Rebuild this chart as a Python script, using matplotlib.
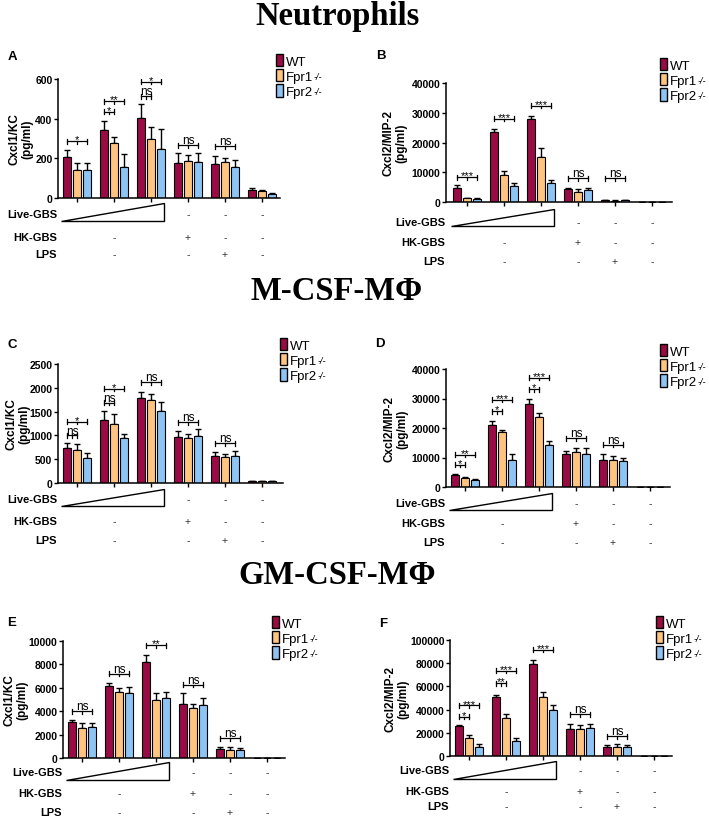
import matplotlib
matplotlib.use('Agg')
import matplotlib.pyplot as plt
import matplotlib.transforms as mtransforms
from matplotlib.patches import Polygon, Patch

plt.rcParams['font.family'] = ['Liberation Sans', 'DejaVu Sans']

W, H = 709, 820

GENOTYPES = ['WT', 'Fpr1', 'Fpr2']
KNOCKOUT_SUP = ['', '-/-', '-/-']
COLORS = ['#990B44', '#FFC47F', '#8DC4F4']

# Treatment table under each panel (groups 0-2: increasing Live-GBS)
HK_ROW = {1: '-', 3: '+', 4: '-', 5: '-'}
LPS_ROW = {1: '-', 3: '-', 4: '+', 5: '-'}
LIVE_ROW = {3: '-', 4: '-', 5: '-'}

# ---- Panel A: Neutrophils, Cxcl1/KC
A_WT = [205, 345, 405, 178, 170, 42]
A_WT_SD = [35, 45, 70, 50, 40, 8]
A_FPR1 = [140, 275, 295, 188, 180, 33]
A_FPR1_SD = [35, 35, 65, 30, 22, 5]
A_FPR2 = [140, 155, 245, 180, 155, 22]
A_FPR2_SD = [35, 65, 105, 45, 37, 4]
A_SIG = [(0, 2, 287, '*'), (1, 1, 434, '*'), (1, 2, 489, '**'),
         (2, 1, 514, 'ns'), (2, 2, 585, '*'), (3, 2, 267, 'ns'), (4, 2, 262, 'ns')]

# ---- Panel B: Neutrophils, Cxcl2/MIP-2
B_WT = [4700, 23500, 28000, 4300, 700, 0]
B_WT_SD = [900, 1200, 800, 400, 100, 0]
B_FPR1 = [1200, 9200, 15000, 3500, 500, 0]
B_FPR1_SD = [300, 1200, 3000, 900, 100, 0]
B_FPR2 = [1000, 5300, 6500, 4000, 600, 0]
B_FPR2_SD = [200, 1000, 1000, 700, 100, 0]
B_SIG = [(0, 2, 8400, '***'), (1, 2, 27900, '***'), (2, 2, 32300, '***'),
         (3, 2, 8000, 'ns'), (4, 2, 8000, 'ns')]

# ---- Panel C: M-CSF macrophages, Cxcl1/KC
C_WT = [730, 1330, 1790, 970, 570, 40]
C_WT_SD = [120, 180, 130, 120, 90, 5]
C_FPR1 = [690, 1250, 1750, 950, 540, 40]
C_FPR1_SD = [130, 200, 110, 80, 70, 5]
C_FPR2 = [530, 940, 1510, 980, 560, 40]
C_FPR2_SD = [100, 90, 190, 150, 120, 5]
C_SIG = [(0, 1, 1000, 'ns'), (0, 2, 1290, '*'), (1, 1, 1690, 'ns'), (1, 2, 1985, '*'),
         (2, 2, 2120, 'ns'), (3, 2, 1280, 'ns'), (4, 2, 840, 'ns')]

# ---- Panel D: M-CSF macrophages, Cxcl2/MIP-2
D_WT = [4000, 21000, 28000, 11200, 9200, 150]
D_WT_SD = [300, 1500, 2000, 1000, 2000, 0]
D_FPR1 = [3000, 18500, 23700, 11700, 9100, 150]
D_FPR1_SD = [500, 800, 1500, 1500, 1400, 0]
D_FPR2 = [2300, 9300, 14200, 11200, 8700, 150]
D_FPR2_SD = [400, 2000, 1500, 2000, 1200, 0]
D_SIG = [(0, 1, 7460, '*'), (0, 2, 10850, '**'), (1, 1, 25760, '*'), (1, 2, 29500, '***'),
         (2, 1, 33220, '*'), (2, 2, 36950, '***'), (3, 2, 16600, 'ns'), (4, 2, 14240, 'ns')]

# ---- Panel E: GM-CSF macrophages, Cxcl1/KC
E_WT = [3050, 6150, 8200, 4650, 780, 30]
E_WT_SD = [200, 250, 600, 900, 200, 0]
E_FPR1 = [2600, 5620, 5000, 4250, 720, 30]
E_FPR1_SD = [400, 400, 550, 400, 180, 0]
E_FPR2 = [2680, 5520, 5100, 4560, 650, 30]
E_FPR2_SD = [350, 550, 550, 600, 200, 0]
E_SIG = [(0, 2, 4000, 'ns'), (1, 2, 7180, 'ns'), (2, 2, 9650, '**'),
         (3, 2, 6240, 'ns'), (4, 2, 1700, 'ns')]

# ---- Panel F: GM-CSF macrophages, Cxcl2/MIP-2
F_WT = [25500, 50500, 79000, 23500, 7800, 0]
F_WT_SD = [1500, 2500, 3500, 4500, 2000, 0]
F_FPR1 = [15500, 33000, 51000, 23500, 7500, 0]
F_FPR1_SD = [3000, 3500, 4000, 3500, 2500, 0]
F_FPR2 = [8000, 13000, 39500, 24000, 7500, 0]
F_FPR2_SD = [2000, 2500, 4500, 3500, 2000, 0]
F_SIG = [(0, 1, 34000, '*'), (0, 2, 43600, '***'), (1, 1, 62900, '**'), (1, 2, 73300, '***'),
         (2, 2, 91400, '***'), (3, 2, 36200, 'ns'), (4, 2, 17200, 'ns')]

fig = plt.figure(figsize=(W / 100, H / 100), dpi=100)

BAR_W = 0.19
OFFS = [-0.27, 0, 0.27]
SPACING = 37.0
legends = []


def draw_panel(letter, box, x0, ylab, ylab_x, ymax, step, series, sig, rows, tri,
               leg_xy, letter_xy):
    l, t, r, b = box
    ax = fig.add_axes([l / W, 1 - b / H, (r - l) / W, (b - t) / H])
    hpx = b - t
    for k, (vals, sd) in enumerate(series):
        xs = [g + OFFS[k] for g in range(6)]
        ax.bar(xs, vals, BAR_W, color=COLORS[k], edgecolor='black', linewidth=0.8, zorder=2)
        ax.errorbar(xs, vals, yerr=[[0] * 6, sd], fmt='none', ecolor='black',
                    elinewidth=1.0, capsize=2.2, capthick=1.0, zorder=1)
    ax.set_xlim((l - x0) / SPACING, (r - x0) / SPACING)
    ax.set_ylim(0, ymax)
    ax.set_yticks(range(0, ymax + 1, step))
    ax.set_xticks(range(6))
    ax.set_xticklabels([])
    for sp in ['top', 'right']:
        ax.spines[sp].set_visible(False)
    for sp in ['left', 'bottom']:
        ax.spines[sp].set_linewidth(1.1)
    ax.tick_params(axis='both', direction='out', length=3, width=1.0, pad=1)
    for lab in ax.get_yticklabels():
        lab.set_fontweight('bold')
        lab.set_fontsize(7.5)
    fig.text(ylab_x / W, 1 - (t + b) / 2 / H, ylab, rotation=90, ha='center', va='center',
             multialignment='center', fontweight='bold', fontsize=8.5, linespacing=1.05)

    # significance brackets
    ppx = ymax / hpx
    d = 2.5 * ppx
    for g, tgt, y, txt in sig:
        x1, x2 = g + OFFS[0], g + OFFS[tgt]
        xm = (x1 + x2) / 2
        ax.plot([x1, x2], [y, y], color='black', lw=0.9)
        ax.plot([x1, x1], [y - d, y + d], color='black', lw=0.9)
        ax.plot([x2, x2], [y - d, y + d], color='black', lw=0.9)
        ax.plot([xm, xm], [y, y - d], color='black', lw=0.9)
        if '*' in txt:
            ax.text(xm, y - 1.2 * ppx, txt, ha='center', va='baseline', fontsize=8)
        else:
            ax.text(xm, y + 1.8 * ppx, txt, ha='center', va='baseline', fontsize=8.5)

    # treatment table
    trans = mtransforms.blended_transform_factory(ax.transData, ax.transAxes)
    live, hk, lps = [-o / hpx for o in rows]
    for yy, name in [(live, 'Live-GBS'), (hk, 'HK-GBS'), (lps, 'LPS')]:
        ax.text(-0.004, yy, name, transform=ax.transAxes, ha='right', va='center',
                fontsize=8, fontweight='bold')
    for g, s in LIVE_ROW.items():
        ax.text(g, live, s, transform=trans, ha='center', va='center', fontsize=7.5, color='#333333')
    for g, s in HK_ROW.items():
        ax.text(g, hk, s, transform=trans, ha='center', va='center', fontsize=7.5, color='#333333')
    for g, s in LPS_ROW.items():
        ax.text(g, lps, s, transform=trans, ha='center', va='center', fontsize=7.5, color='#333333')
    ttop, tbot = -tri[0] / hpx, -tri[1] / hpx
    ax.add_patch(Polygon([(-0.43, tbot), (2.35, tbot), (2.35, ttop)], closed=True,
                         facecolor='white', edgecolor='black', lw=1.0,
                         transform=trans, clip_on=False))

    handles = [Patch(facecolor=c, edgecolor='black', linewidth=1.0) for c in COLORS]
    leg = ax.legend(handles, GENOTYPES, loc='upper left',
                    bbox_to_anchor=(leg_xy[0] / W, 1 - leg_xy[1] / H),
                    bbox_transform=fig.transFigure, frameon=False, borderpad=0,
                    borderaxespad=0, handlelength=0.55, handleheight=1.05,
                    handletextpad=0.2, labelspacing=0.12, fontsize=9.5)
    legends.append(leg)
    fig.text(letter_xy[0] / W, 1 - letter_xy[1] / H, letter, ha='center', va='center',
             fontsize=9.5, fontweight='bold')
    return ax


draw_panel('A', (58, 80, 280, 199), 77, 'Cxcl1/KC\n(pg/ml)', 21, 600, 200,
           [(A_WT, A_WT_SD), (A_FPR1, A_FPR1_SD), (A_FPR2, A_FPR2_SD)], A_SIG,
           (16, 39, 56), (5, 23), (276, 55), (12, 57))
draw_panel('B', (446, 84, 672, 203), 467, 'Cxcl2/MIP-2\n(pg/ml)', 395, 40000, 10000,
           [(B_WT, B_WT_SD), (B_FPR1, B_FPR1_SD), (B_FPR2, B_FPR2_SD)], B_SIG,
           (20, 40, 59), (7, 24), (660, 59), (381, 56))
draw_panel('C', (58, 365, 283, 484), 77, 'Cxcl1/KC\n(pg/ml)', 18, 2500, 500,
           [(C_WT, C_WT_SD), (C_FPR1, C_FPR1_SD), (C_FPR2, C_FPR2_SD)], C_SIG,
           (16, 38, 57), (6, 23), (280, 339), (12, 345))
draw_panel('D', (446, 370, 670, 488), 465, 'Cxcl2/MIP-2\n(pg/ml)', 396, 40000, 10000,
           [(D_WT, D_WT_SD), (D_FPR1, D_FPR1_SD), (D_FPR2, D_FPR2_SD)], D_SIG,
           (16, 36, 55), (6, 23), (660, 345), (380, 344))
draw_panel('E', (63, 642, 285, 759), 82, 'Cxcl1/KC\n(pg/ml)', 16, 10000, 2000,
           [(E_WT, E_WT_SD), (E_FPR1, E_FPR1_SD), (E_FPR2, E_FPR2_SD)], E_SIG,
           (14, 35, 54), (4, 22), (272, 617), (12, 623))
draw_panel('F', (450, 641, 672, 757), 469, 'Cxcl2/MIP-2\n(pg/ml)', 397, 100000, 20000,
           [(F_WT, F_WT_SD), (F_FPR1, F_FPR1_SD), (F_FPR2, F_FPR2_SD)], F_SIG,
           (14, 35, 50), (5, 23), (656, 617), (383, 624))

for txt, y in [('Neutrophils', 17), ('M-CSF-MΦ', 292), ('GM-CSF-MΦ', 576)]:
    fig.text(337 / W, 1 - y / H, txt, ha='center', va='center', fontsize=23.5,
             fontweight='bold', family=['Liberation Serif', 'DejaVu Serif'])

# superscript "-/-" after the knockout labels
fig.canvas.draw()
renderer = fig.canvas.get_renderer()
for leg in legends:
    for txt, sup in zip(leg.get_texts(), KNOCKOUT_SUP):
        if not sup:
            continue
        bb = txt.get_window_extent(renderer)
        fig.text((bb.x1 + 0.5) / W, (bb.y1 - 1.0) / H, sup, ha='left', va='top',
                 fontsize=6.5, style='italic')

fig.savefig('out.png', dpi=100)
